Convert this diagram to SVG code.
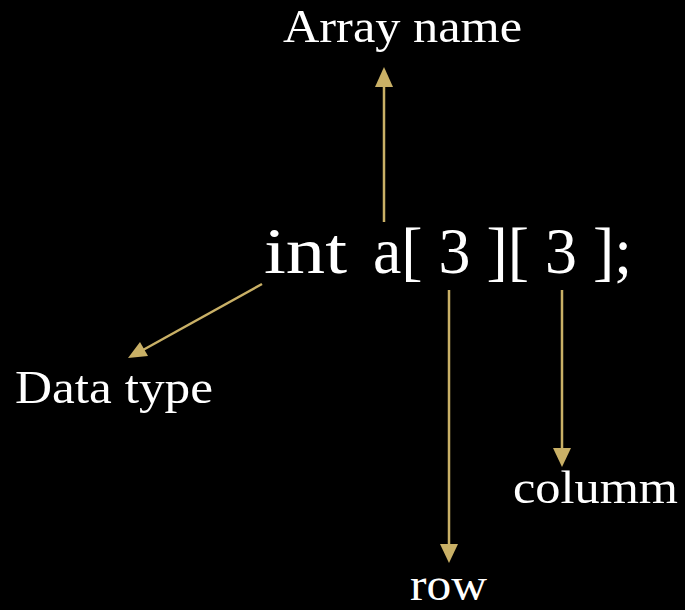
<svg xmlns="http://www.w3.org/2000/svg" width="685" height="610" viewBox="0 0 685 610">
<style>
text{font-family:"Liberation Serif","DejaVu Serif",serif;fill:#ffffff}
.c{stroke:#c9b066;stroke-width:2.5;fill:none}
.h{fill:#c9b066}
</style>
<rect width="685" height="610" fill="#000"/>
<g id="connectors">
<path class="c" d="M384,222 V84" />
<path class="h" d="M384,67 L375,87 L393,87 z"/>
<path class="c" d="M262,284 L143,350" />
<path class="h" d="M128,358 L148,356 L140,342 z"/>
<path class="c" d="M449,290 V546" />
<path class="h" d="M449,563 L440,544 L458,544 z"/>
<path class="c" d="M562,290 V450" />
<path class="h" d="M562,467 L553,448 L571,448 z"/>
</g>
<g id="code">
<text x="264" y="273" font-size="66" textLength="83" lengthAdjust="spacingAndGlyphs">int</text>
<text x="373" y="273" font-size="66" textLength="259" lengthAdjust="spacingAndGlyphs">a[ 3 ][ 3 ];</text>
</g>
<g id="array-name"><text x="283" y="42" font-size="46" textLength="239" lengthAdjust="spacingAndGlyphs">Array name</text></g>
<g id="data-type"><text x="15" y="403" font-size="46" textLength="198" lengthAdjust="spacingAndGlyphs">Data type</text></g>
<g id="column"><text x="513" y="503" font-size="46" textLength="165" lengthAdjust="spacingAndGlyphs">columm</text></g>
<g id="row"><text x="410" y="600" font-size="46" textLength="77" lengthAdjust="spacingAndGlyphs">row</text></g>
</svg>
